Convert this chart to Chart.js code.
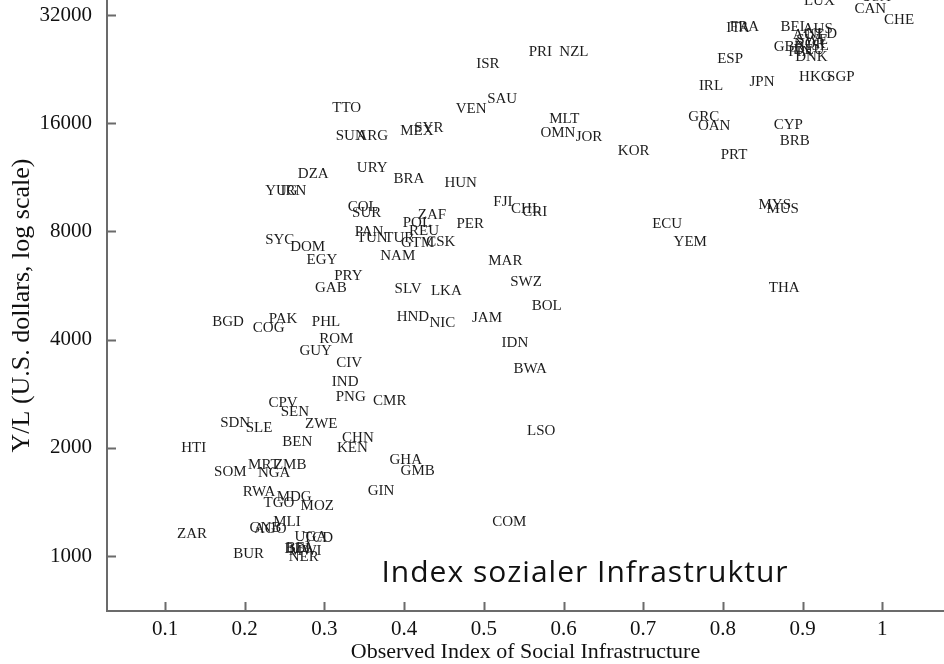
<!DOCTYPE html>
<html>
<head>
<meta charset="utf-8">
<script src="https://cdn.jsdelivr.net/npm/chart.js"></script>
<style>
  html, body { margin: 0; padding: 0; background: #fff; }
  #wrap { width: 944px; height: 664px; }
</style>
</head>
<body>
<div id="wrap"><canvas id="chart" width="944" height="664"></canvas></div>
<script>
// 国家代码、社会基础设施指数、每工人产出（美元，对数刻度）
const countryCodes = [
  'LUX','USA','CAN','CHE','ITA','FRA','BEL','AUS','NLD','AUT','SWE','NOR','GBR','ISL','FIN','DEU','DNK',
  'ESP','IRL','JPN','HKG','SGP','GRC','OAN','CYP','BRB','KOR','PRT','MYS','MUS','ECU','YEM','THA',
  'ISR','PRI','NZL','TTO','VEN','SAU','MLT','OMN','JOR','SUN','ARG','MEX','SYR','DZA','YUG','IRN',
  'URY','BRA','HUN','COL','SUR','FJI','CHL','CRI','ZAF','POL','REU','PER','PAN','TUN','TUR','GTM','CSK',
  'NAM','MAR','SYC','DOM','EGY','PRY','GAB','SWZ','SLV','LKA','BOL','PHL','HND','NIC','JAM','ROM','GUY',
  'IDN','CIV','BWA','IND','BGD','PAK','COG','PNG','CMR','ZWE','CHN','KEN','LSO','GHA','GMB','GIN','COM',
  'MOZ','CPV','SEN','SDN','SLE','BEN','HTI','MRT','ZMB','NGA','SOM','RWA','MDG','TGO','MLI','GNB','AGO',
  'ZAR','BUR','UGA','TCD','BFA','MWI','BDI','NER'
];
const socialInfra = [
  0.921,0.992,0.985,1.021,0.819,0.827,0.890,0.919,0.924,0.907,0.912,0.909,0.883,0.919,0.897,0.908,0.911,
  0.809,0.785,0.849,0.916,0.948,0.776,0.789,0.882,0.890,0.688,0.814,0.865,0.875,0.730,0.759,0.877,
  0.505,0.571,0.613,0.328,0.484,0.523,0.601,0.593,0.632,0.333,0.360,0.416,0.431,0.286,0.246,0.261,
  0.360,0.406,0.471,0.348,0.353,0.524,0.553,0.564,0.435,0.416,0.425,0.483,0.356,0.360,0.394,0.417,0.446,
  0.392,0.527,0.244,0.279,0.297,0.330,0.308,0.553,0.405,0.453,0.579,0.302,0.411,0.448,0.504,0.315,0.289,
  0.539,0.331,0.558,0.326,0.179,0.248,0.230,0.333,0.382,0.296,0.342,0.335,0.572,0.402,0.417,0.371,0.532,
  0.291,0.248,0.263,0.188,0.218,0.266,0.136,0.224,0.257,0.237,0.182,0.218,0.262,0.243,0.253,0.226,0.232,
  0.134,0.205,0.283,0.292,0.269,0.276,0.266,0.274
];
const outputPerWorker = [
  35000,35900,33250,31000,29400,29600,29600,29250,28300,28150,27260,26580,26070,26240,25250,25570,24450,
  24140,20300,20830,21510,21510,16650,15710,15820,14270,13390,13050,9470,9230,8390,7470,5570,
  23380,25250,25250,17640,17520,18680,16440,15030,14650,14740,14740,15220,15520,11560,10360,10360,
  12010,11190,10910,9350,9000,9660,9230,9060,8890,8440,8020,8390,7970,7670,7670,7430,7470,
  6830,6620,7570,7240,6660,6010,5570,5780,5530,5460,4960,4480,4620,4450,4590,4020,3720,
  3910,3440,3310,3050,4480,4560,4310,2770,2700,2330,2130,1997,2230,1850,1720,1520,1240,
  1380,2660,2520,2340,2270,2080,2000,1790,1790,1700,1710,1510,1460,1400,1240,1195,1185,
  1150,1010,1130,1120,1050,1030,1045,994
];
const xTicks = [0.1, 0.2, 0.3, 0.4, 0.5, 0.6, 0.7, 0.8, 0.9, 1];
const yTicks = [1000, 2000, 4000, 8000, 16000, 32000];
const xRange = [0.0272, 1.0774];
const yRange = [703, 35226];
// 德文注释（数据坐标）
const noteText = 'Index sozialer Infrastruktur';
const notePos = { x: 0.627, y: 897 };

const AXIS_COLOR = '#6b6b6b';
const SERIF = '"Liberation Serif", "DejaVu Serif", serif';

// 国家标签与刻度线插件
const labelPlugin = {
  id: 'countryLabels',
  afterDatasetsDraw(chart) {
    const ctx = chart.ctx;
    const meta = chart.getDatasetMeta(0);
    ctx.save();
    ctx.font = '15px ' + SERIF;
    ctx.fillStyle = '#1c1c1c';
    ctx.textAlign = 'center';
    ctx.textBaseline = 'middle';
    meta.data.forEach((el, i) => {
      ctx.fillText(countryCodes[i], el.x, el.y);
    });
    // 注释文字
    const xs = chart.scales.x, ys = chart.scales.y;
    ctx.font = '30px "Open Sans", "Noto Sans", sans-serif';
    ctx.letterSpacing = '1px';
    ctx.fillStyle = '#111';
    ctx.fillText(noteText, xs.getPixelForValue(notePos.x), ys.getPixelForValue(notePos.y));
    ctx.restore();
  },
  afterDraw(chart) {
    const ctx = chart.ctx;
    const xs = chart.scales.x, ys = chart.scales.y;
    const area = chart.chartArea;
    ctx.save();
    ctx.strokeStyle = AXIS_COLOR;
    ctx.lineWidth = 2;
    ctx.beginPath();
    yTicks.forEach(v => {
      const py = Math.round(ys.getPixelForValue(v)) + 0.5;
      ctx.moveTo(area.left, py);
      ctx.lineTo(area.left + 9, py);
    });
    xTicks.forEach(v => {
      const px = Math.round(xs.getPixelForValue(v)) + 0.5;
      ctx.moveTo(px, area.bottom);
      ctx.lineTo(px, area.bottom - 9);
    });
    ctx.stroke();
    ctx.restore();
  }
};

// 去掉刻度标签溢出留白，使绘图区贴满画布
function noPadding(scale) {
  scale.paddingTop = 0;
  scale.paddingBottom = 0;
  scale.paddingLeft = 0;
  scale.paddingRight = 0;
}

new Chart(document.getElementById('chart'), {
  type: 'scatter',
  data: {
    datasets: [{
      data: socialInfra.map((x, i) => ({ x: x, y: outputPerWorker[i] })),
      pointRadius: 0,
      pointHoverRadius: 0,
      showLine: false
    }]
  },
  options: {
    responsive: false,
    animation: false,
    devicePixelRatio: 1,
    layout: { padding: 0 },
    plugins: {
      legend: { display: false },
      tooltip: { enabled: false }
    },
    scales: {
      x: {
        type: 'linear',
        min: xRange[0],
        max: xRange[1],
        afterBuildTicks(scale) {
          scale.ticks = xTicks.map(v => ({ value: v }));
        },
        afterFit(scale) { scale.height = 53; noPadding(scale); },
        grid: { display: false },
        border: { display: true, color: AXIS_COLOR, width: 2 },
        ticks: {
          padding: -2,
          color: '#111',
          font: { family: SERIF, size: 21 },
          callback: v => String(v)
        },
        title: {
          display: true,
          text: 'Observed Index of Social Infrastructure',
          color: '#111',
          font: { family: SERIF, size: 22 },
          padding: { top: 0, bottom: -1 }
        }
      },
      y: {
        type: 'logarithmic',
        min: yRange[0],
        max: yRange[1],
        afterBuildTicks(scale) {
          scale.ticks = yTicks.map(v => ({ value: v }));
        },
        afterFit(scale) { scale.width = 107; noPadding(scale); },
        grid: { display: false },
        border: { display: true, color: AXIS_COLOR, width: 2 },
        ticks: {
          padding: 7,
          color: '#111',
          font: { family: SERIF, size: 21 },
          callback: v => String(v)
        },
        title: {
          display: true,
          text: 'Y/L (U.S. dollars, log scale)',
          color: '#111',
          font: { family: SERIF, size: 26 },
          padding: { top: 7, bottom: 0 }
        }
      }
    }
  },
  plugins: [labelPlugin]
});
</script>
</body>
</html>
